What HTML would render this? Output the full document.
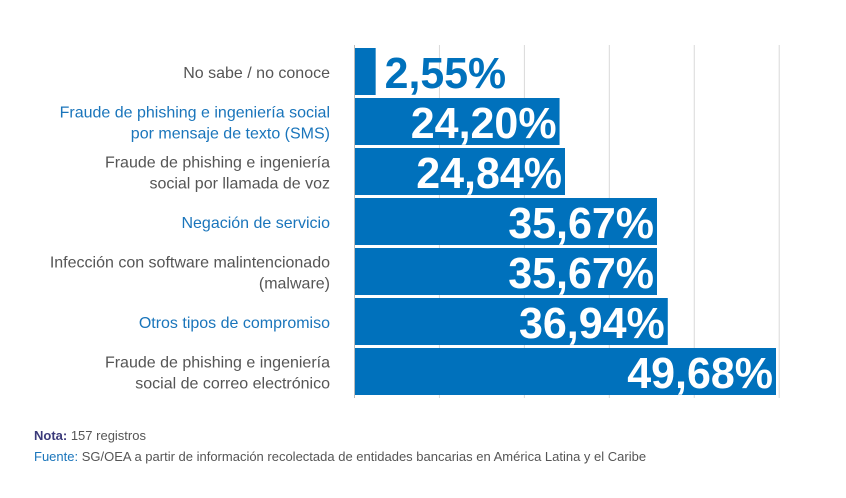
<!DOCTYPE html>
<html><head><meta charset="utf-8"><style>
body{margin:0;background:#fff;width:846px;height:493px;overflow:hidden;font-family:"Liberation Sans",sans-serif}
</style></head><body>
<svg id="chart" width="846" height="493" xmlns="http://www.w3.org/2000/svg">
<g id="grid"></g><g id="bars"></g><g id="labels"></g>
<line x1="354.5" y1="45" x2="354.5" y2="398" stroke="#bbb" stroke-width="1"/>
<text x="34" y="440" font-size="13" fill="#555"><tspan font-weight="bold" fill="#3b3a7a">Nota:</tspan> 157 registros</text>
<text x="34" y="461" font-size="13" fill="#1a75bb">Fuente: <tspan fill="#555">SG/OEA a partir de información recolectada de entidades bancarias en América Latina y el Caribe</tspan></text>
</svg>
<script>
const categories=[["No sabe / no conoce"],["Fraude de phishing e ingeniería social","por mensaje de texto (SMS)"],["Fraude de phishing e ingeniería","social por llamada de voz"],["Negación de servicio"],["Infección con software malintencionado","(malware)"],["Otros tipos de compromiso"],["Fraude de phishing e ingeniería","social de correo electrónico"]];
const values=[2.55,24.20,24.84,35.67,35.67,36.94,49.68];
const valueLabels=["2,55%","24,20%","24,84%","35,67%","35,67%","36,94%","49,68%"];
const labelBlue=[false,true,false,true,false,true,false];
const gridTicks=[10,20,30,40,50];
const NS="http://www.w3.org/2000/svg";
const x0=354, pxPer=(776-354)/49.68;
const xs=v=>x0+v*pxPer;
const ys=i=>48+i*50;
const mk=(t,a,p)=>{const e=document.createElementNS(NS,t);for(const k in a)e.setAttribute(k,a[k]);p.appendChild(e);return e;};
const G=document.getElementById('grid'),B=document.getElementById('bars'),L=document.getElementById('labels');
gridTicks.forEach(t=>{const l=mk('line',{x1:xs(t)+.5,x2:xs(t)+.5,y1:45,y2:398,stroke:'#d9d9d9','stroke-width':1},G);

});
values.forEach((v,i)=>{
 const r=mk('rect',{x:x0+1,y:ys(i),width:xs(v)-x0-1,height:47,fill:'#0071bc'},B);
 
 
 const w=xs(v)-x0;
 const inside=w>60;
 const s=valueLabels[i];
 const t=mk('text',{x:inside?xs(v)-3:xs(v)+9,y:ys(i)+40,'font-size':44,'font-weight':'bold','text-anchor':inside?'end':'start',fill:inside?'#fff':'#0071bc',textLength:s.length*24.3,lengthAdjust:'spacingAndGlyphs'},B);
 t.textContent=s;
 
 
 const lines=categories[i];
 const cy=ys(i)+24;
 lines.forEach((str,j)=>{
  const tt=mk('text',{x:330,y:cy+6+(j-(lines.length-1)/2)*21,'font-size':16,'text-anchor':'end',fill:labelBlue[i]?'#1a75bb':'#555'},L);
  tt.textContent=str;
  
  
 });
});
</script>
</body></html>
